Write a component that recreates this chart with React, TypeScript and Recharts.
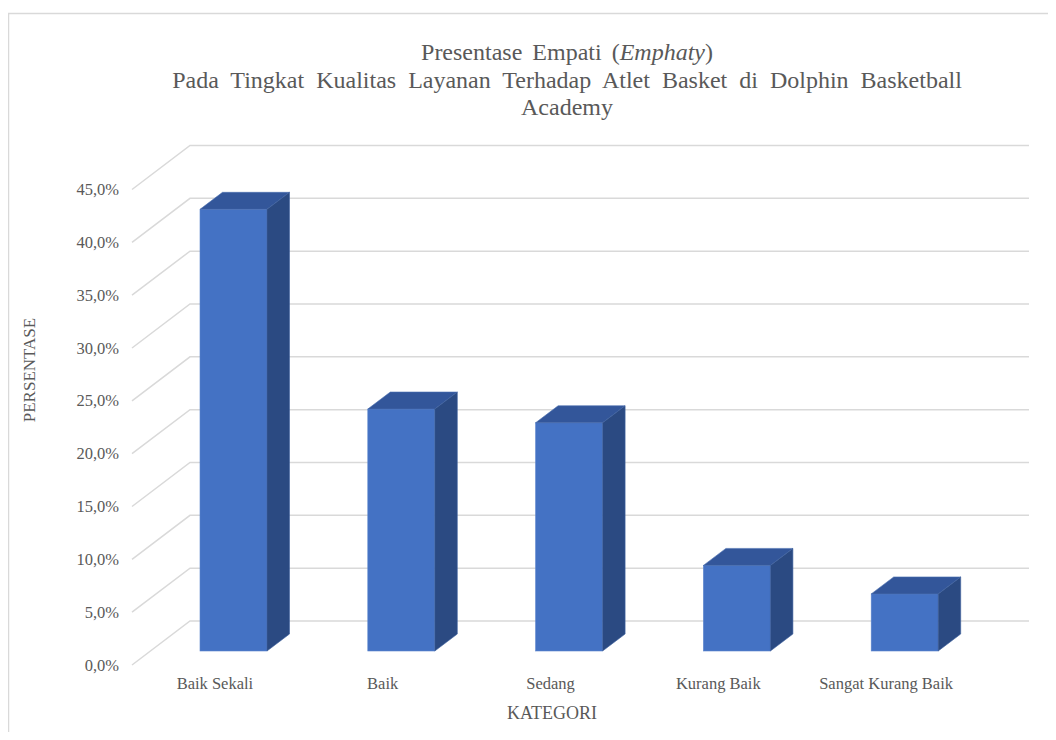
import { BarChart, Bar, XAxis, YAxis, CartesianGrid } from "recharts";

// Persentase per kategori (%)
const categories = ["Baik Sekali", "Baik", "Sedang", "Kurang Baik", "Sangat Kurang Baik"];
const percentages = [41.8, 22.9, 21.6, 8.1, 5.4];
const yTicks = [0, 5, 10, 15, 20, 25, 30, 35, 40, 45];

const data = categories.map((kategori, i) => ({ kategori, persen: percentages[i] }));

const FONT = "'Liberation Serif', 'Times New Roman', serif";
const TEXT = "#595959";
const GRID = "#d9d9d9";

// oblique depth of the bars and of the floor/back wall
const BAR_DX = 22.5;
const BAR_DY = 17;
const FLOOR_FRONT = { dx: -18, dy: 14 };
const FLOOR_BACK = { dx: 40, dy: -30 };

const fmt = (v: number) => v.toFixed(1).replace(".", ",") + "%";

function Bar3D(props: any) {
  const { x, y, width, height } = props;
  if (!height || height <= 0) return null;
  const top = `${x},${y} ${x + BAR_DX},${y - BAR_DY} ${x + width + BAR_DX},${y - BAR_DY} ${x + width},${y}`;
  const side = `${x + width},${y} ${x + width + BAR_DX},${y - BAR_DY} ${x + width + BAR_DX},${y + height - BAR_DY} ${x + width},${y + height}`;
  return (
    <g>
      <rect x={x} y={y} width={width} height={height} fill="#4472c4" stroke="#5a84cc" strokeWidth={0.6} />
      <polygon points={top} fill="#33569a" stroke="#4a6fb0" strokeWidth={0.6} />
      <polygon points={side} fill="#2b4a82" stroke="#3d5f9e" strokeWidth={0.6} />
    </g>
  );
}

function GridLine(props: any) {
  const { x1, x2, y1, index } = props;
  const fx = x1 + FLOOR_FRONT.dx;
  const fy = y1 + FLOOR_FRONT.dy;
  const bx = x1 + FLOOR_BACK.dx;
  const by = y1 + FLOOR_BACK.dy;
  return (
    <polyline
      key={`g-${index}`}
      points={`${fx},${fy} ${bx},${by} ${x2 + FLOOR_BACK.dx},${by}`}
      fill="none"
      stroke={GRID}
      strokeWidth={1.5}
    />
  );
}

const renderYTick = (props: any) => {
  const { y, payload, index } = props;
  return (
    <text key={`y-${index}`} x={119} y={y + FLOOR_FRONT.dy} textAnchor="end" dominantBaseline="central" fontFamily={FONT} fontSize={16.5} fill={TEXT}>
      {fmt(payload.value)}
    </text>
  );
};

const renderXTick = (props: any) => {
  const { x, payload, index } = props;
  return (
    <text key={`x-${index}`} x={x - 19} y={689} textAnchor="middle" fontFamily={FONT} fontSize={16.5} fill={TEXT}>
      {payload.value}
    </text>
  );
};

export default function App() {
  return (
    <div style={{ margin: -8, width: 1056, height: 740, background: "#fff" }}>
      <BarChart
        width={1056}
        height={740}
        data={data}
        margin={{ top: 175.5, right: 67, bottom: 59, left: 90 }}
        barSize={67}
      >
        <path d="M8.5,740 V13.5 H1056" fill="none" stroke={GRID} strokeWidth={1.5} />
        <CartesianGrid vertical={false} horizontal={(p: any) => <GridLine {...p} />} />
        <XAxis dataKey="kategori" height={30} axisLine={false} tickLine={false} tick={renderXTick} interval={0} />
        <YAxis width={60} domain={[0, 45]} ticks={yTicks} axisLine={false} tickLine={false} tick={renderYTick} />
        <Bar dataKey="persen" shape={<Bar3D />} isAnimationActive={false} />
        <text x={567} y={60} textAnchor="middle" fontFamily={FONT} fontSize={24} fill={TEXT} style={{ wordSpacing: 4 }}>
          Presentase Empati (<tspan fontStyle="italic">Emphaty</tspan>)
        </text>
        <text x={567} y={87.5} textAnchor="middle" fontFamily={FONT} fontSize={24} fill={TEXT} style={{ wordSpacing: 6 }}>
          Pada Tingkat Kualitas Layanan Terhadap Atlet Basket di Dolphin Basketball
        </text>
        <text x={567} y={115} textAnchor="middle" fontFamily={FONT} fontSize={24} fill={TEXT}>
          Academy
        </text>
        <text
          x={29}
          y={370}
          textAnchor="middle"
          dominantBaseline="central"
          transform="rotate(-90 29 370)"
          fontFamily={FONT}
          fontSize={17}
          fill={TEXT}
        >
          PERSENTASE
        </text>
        <text x={552} y={719} textAnchor="middle" fontFamily={FONT} fontSize={18} fill={TEXT}>
          KATEGORI
        </text>
      </BarChart>
    </div>
  );
}
